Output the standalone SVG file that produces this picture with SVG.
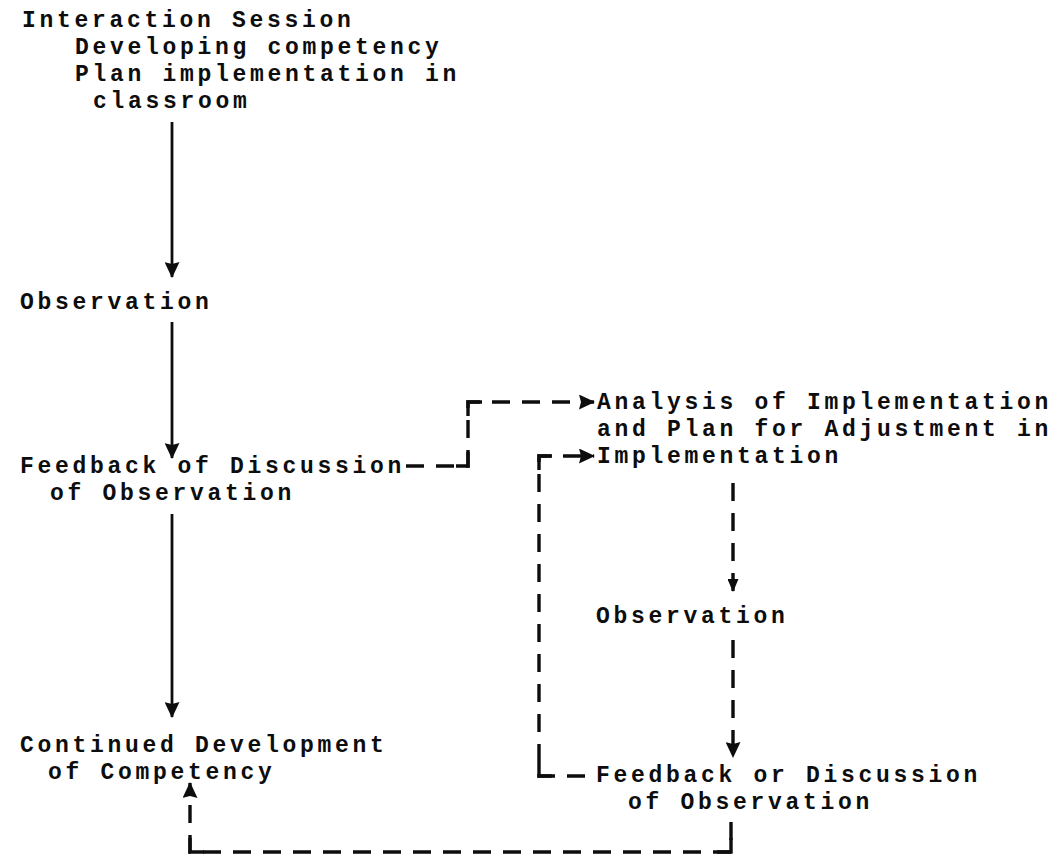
<svg xmlns="http://www.w3.org/2000/svg" width="1062" height="861" viewBox="0 0 1062 861">
  <style>
    text { font-family: "Liberation Mono", "Courier New", monospace; font-size: 23px; font-weight: bold; letter-spacing: 3.7px; fill: #0d0d0d; }
    .solid { stroke: #0d0d0d; stroke-width: 2.8; fill: none; }
    .dash { stroke: #0d0d0d; stroke-width: 3.4; fill: none; stroke-dasharray: 18 12; }
    .corner { stroke: #0d0d0d; stroke-width: 3.4; fill: none; }
  </style>
  <defs>
    <marker id="arrow" markerUnits="userSpaceOnUse" markerWidth="16" markerHeight="15" viewBox="0 0 16 15" refX="15" refY="7.5" orient="auto">
      <path d="M0,0 L16,7.5 L0,15 L2,7.5 z" fill="#0d0d0d"/>
    </marker>
    <marker id="arrow-small" markerUnits="userSpaceOnUse" markerWidth="13" markerHeight="11" viewBox="0 0 13 11" refX="12" refY="5.5" orient="auto">
      <path d="M0,0 L13,5.5 L0,11 z" fill="#0d0d0d"/>
    </marker>
  </defs>
  <rect width="1062" height="861" fill="#fff"/>

  <!-- flow connectors: solid main path, dashed feedback loops -->
  <g id="connectors">
    <path class="solid" d="M172,122 V277" marker-end="url(#arrow)"/>
    <path class="solid" d="M172,322 V458" marker-end="url(#arrow)"/>
    <path class="solid" d="M172,514 V717" marker-end="url(#arrow)"/>

    <path class="dash" d="M406,466 H468 V402 H594" marker-end="url(#arrow)"/>
    <path class="corner" d="M456,466 H468 V452"/>
    <path class="corner" d="M468,416 V402 H482"/>

    <path class="dash" d="M585,776 H539 V456 H594" marker-end="url(#arrow)"/>
    <path class="corner" d="M539,470 V456 H552"/>
    <path class="corner" d="M539,762 V776 H552"/>

    <path class="dash" d="M733,483 V591" marker-end="url(#arrow-small)"/>
    <path class="dash" d="M733,640 V757" marker-end="url(#arrow)"/>

    <path class="dash" d="M731,822 V852 H190 V783" marker-end="url(#arrow)"/>
    <path class="corner" d="M731,838 V852 H717"/>
    <path class="corner" d="M204,852 H190 V838"/>
  </g>

  <g id="interaction-session">
    <text x="22" y="27">Interaction Session</text>
    <text x="75" y="54">Developing competency</text>
    <text x="75" y="81">Plan implementation in</text>
    <text x="93" y="108">classroom</text>
  </g>
  <g id="observation">
    <text x="20" y="309">Observation</text>
  </g>
  <g id="feedback">
    <text x="20" y="473">Feedback of Discussion</text>
    <text x="50" y="500">of Observation</text>
  </g>
  <g id="analysis">
    <text x="597" y="409">Analysis of Implementation</text>
    <text x="597" y="436">and Plan for Adjustment in</text>
    <text x="597" y="463">Implementation</text>
  </g>
  <g id="observation-2">
    <text x="596" y="623">Observation</text>
  </g>
  <g id="continued-development">
    <text x="20" y="752">Continued Development</text>
    <text x="48" y="779">of Competency</text>
  </g>
  <g id="feedback-2">
    <text x="596" y="782">Feedback or Discussion</text>
    <text x="628" y="809">of Observation</text>
  </g>
</svg>
